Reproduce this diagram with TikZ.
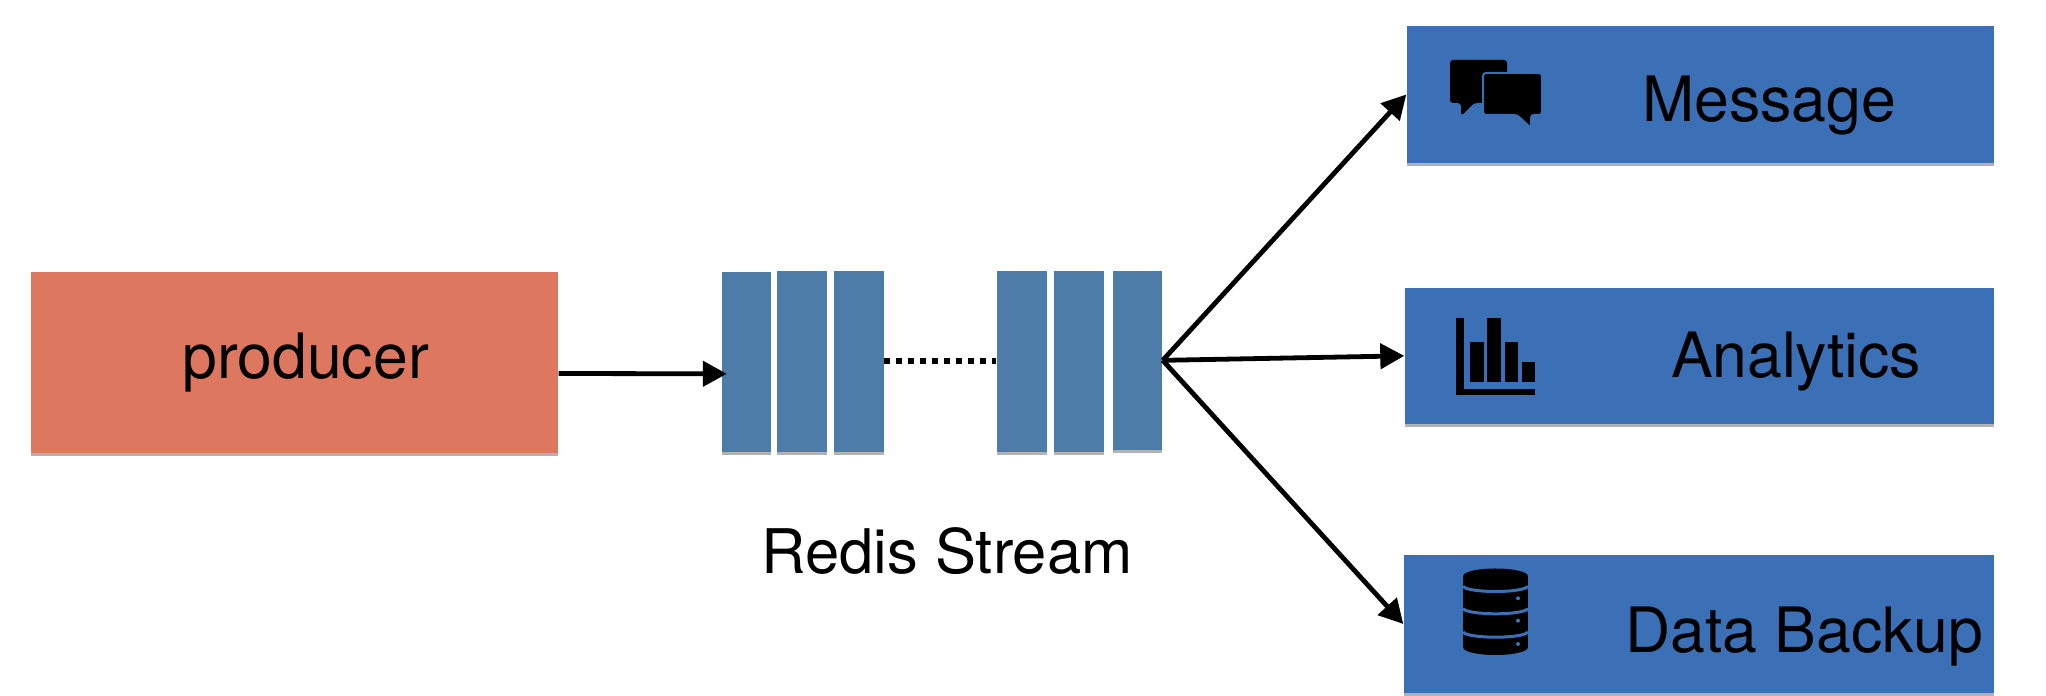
\documentclass[tikz,border=0pt]{standalone}
\usepackage{fontspec}
\setmainfont{TeX Gyre Heros}
\usetikzlibrary{arrows.meta}
\usetikzlibrary{shadows}
\definecolor{prodred}{HTML}{DD775F}
\definecolor{boxblue}{HTML}{3B70B6}
\definecolor{slotblue}{HTML}{4E7CA8}
\tikzset{
  flat/.style={inner sep=0pt, drop shadow={shadow xshift=0cm, shadow yshift=-0.03cm, fill=black, opacity=0.3}},
  slot/.style={flat, fill=slotblue, minimum width=0.5cm, minimum height=1.81cm},
  sink/.style={flat, fill=boxblue, minimum height=1.364cm},
  caption/.style={anchor=base, inner sep=0pt, font=\fontsize{17.8}{21}\selectfont},
  flow/.style={->, line width=0.048cm},
  dots/.style={line width=0.06cm, dash pattern=on 0.06cm off 0.06cm}
}
\begin{document}
\begin{tikzpicture}[>={Triangle[length=0.24cm,width=0.25cm]}]
  \useasboundingbox (0,0) rectangle (20.46,6.96);

  \node[flat, fill=prodred, minimum width=5.275cm, minimum height=1.81cm] (producer) at (2.9425,3.335) {};
  \node[slot, minimum width=0.49cm, minimum height=1.797cm] (s1) at (7.46,3.3415) {};
  \node[slot] (s2) at (8.019,3.348) {};
  \node[slot] (s3) at (8.585,3.348) {};
  \node[slot] (s4) at (10.22,3.348) {};
  \node[slot] (s5) at (10.788,3.348) {};
  \node[slot, minimum width=0.49cm, minimum height=1.793cm] (s6) at (11.375,3.3565) {};
  \node[sink, minimum width=5.87cm] (msg) at (17.005,6.015) {};
  \node[sink, minimum width=5.89cm] (ana) at (16.995,3.4015) {};
  \node[sink, minimum width=5.90cm, minimum height=1.38cm] (bak) at (16.99,0.72) {};

  \node[caption] (prodtext) at (3.055,3.17) {producer};
  \node[caption, font=\fontsize{17.5}{21}\selectfont] (redistext) at (9.47,1.22) {Redis Stream};
  \node[caption] (msgtext) at (17.69,5.745) {Message};
  \node[caption] (anatext) at (17.96,3.18) {Analytics};
  \node[caption] (baktext) at (18.04,0.43) {Data Backup};

  \path[flow] ([yshift=-0.11cm]producer.east) edge ([xshift=0.06cm,yshift=-0.12cm]s1.west);
  \path[dots] (s3) edge (s4);
  \path[flow] (s6.east) edge (msg.west);
  \path[flow] (s6.east) edge (ana.west);
  \path[flow] (s6.east) edge (bak.west);

  \fill[black, rounded corners=0.03cm] (14.50,6.36) -- (15.07,6.36) -- (15.07,5.93) -- (14.74,5.93) -- (14.61,5.80) -- (14.61,5.93) -- (14.50,5.93) -- cycle;
  \filldraw[fill=black, draw=boxblue, line width=0.02cm, rounded corners=0.03cm] (14.83,6.23) -- (15.42,6.23) -- (15.42,5.81) -- (15.31,5.81) -- (15.31,5.68) -- (15.17,5.81) -- (14.83,5.81) -- cycle;

  \fill[black] (14.564,3.783) rectangle (14.64,3.01);
  \fill[black] (14.564,3.07) rectangle (15.35,3.01);
  \fill[black] (14.70,3.143) rectangle (14.835,3.543);
  \fill[black] (14.868,3.143) rectangle (15.008,3.783);
  \fill[black] (15.045,3.143) rectangle (15.18,3.543);
  \fill[black] (15.215,3.143) rectangle (15.35,3.343);

  \fill[black] (14.632,1.2) arc[start angle=180, end angle=0, x radius=0.323, y radius=0.075] -- (15.278,0.485) arc[start angle=0, end angle=-180, x radius=0.323, y radius=0.075] -- cycle;
  \draw[boxblue, line width=0.03cm] (14.632,1.10) arc[start angle=180, end angle=360, x radius=0.323, y radius=0.055];
  \draw[boxblue, line width=0.03cm] (14.632,0.877) arc[start angle=180, end angle=360, x radius=0.323, y radius=0.055];
  \draw[boxblue, line width=0.03cm] (14.632,0.643) arc[start angle=180, end angle=360, x radius=0.323, y radius=0.055];
  \fill[boxblue] (15.18,0.977) circle (0.02);
  \fill[boxblue] (15.18,0.753) circle (0.02);
  \fill[boxblue] (15.18,0.52) circle (0.02);
\end{tikzpicture}
\end{document}
